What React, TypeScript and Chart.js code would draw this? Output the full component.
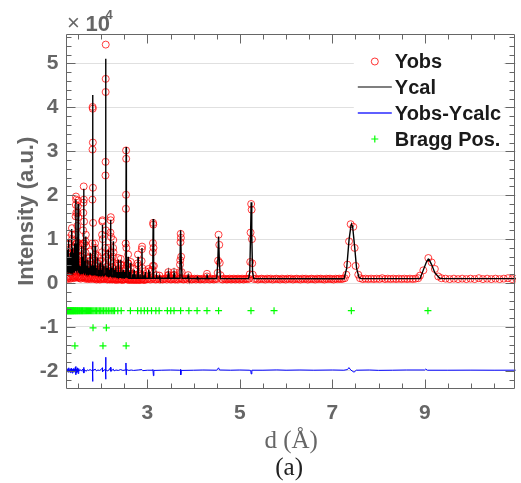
import React, { useEffect, useRef } from 'react';
import { Chart, registerables } from 'chart.js';

Chart.register(...registerables);

// ---- axis ranges / ticks ----
const X_MIN = 1.25;
const X_MAX = 10.97;
const Y_MIN = -23900;
const Y_MAX = 56600;
const xTickLabels = [3, 5, 7, 9];
const yTickValues = [-20000, -10000, 0, 10000, 20000, 30000, 40000, 50000];

// ---- Ycal: flat list of (d, intensity) vertices ----
const ycal = [
  1.25, 1800,
  1.258, 2400, 1.262, 4500, 1.266, 2600,
  1.269, 2900, 1.272, 7600, 1.276, 2500,
  1.28, 3000, 1.283, 5000, 1.287, 2700,
  1.293, 3100, 1.297, 9900, 1.301, 2800,
  1.306, 3200, 1.31, 6000, 1.313, 2900,
  1.315, 3000, 1.318, 4000, 1.322, 2600,
  1.327, 2800, 1.33, 5300, 1.334, 2500,
  1.339, 3000, 1.342, 7000, 1.346, 2700,
  1.352, 2900, 1.355, 4500, 1.359, 2600,
  1.364, 3100, 1.368, 12300, 1.372, 2900,
  1.377, 3200, 1.38, 8000, 1.384, 2800,
  1.389, 2600, 1.392, 5000, 1.396, 2500,
  1.4, 2800, 1.404, 6900, 1.408, 2600,
  1.414, 2500, 1.418, 4000, 1.422, 2600,
  1.426, 3000, 1.43, 9000, 1.434, 2900,
  1.45, 3300, 1.455, 19100, 1.46, 3100,
  1.464, 2900, 1.468, 7000, 1.472, 2800,
  1.475, 3000, 1.478, 9000, 1.482, 2800,
  1.495, 3100, 1.5, 18000, 1.505, 2800,
  1.511, 2600, 1.515, 6000, 1.519, 2500,
  1.526, 2400, 1.53, 4000, 1.534, 2300,
  1.542, 2300, 1.546, 3800, 1.55, 2200,
  1.566, 2500, 1.57, 8400, 1.574, 2400,
  1.581, 2300, 1.585, 4500, 1.589, 2200,
  1.596, 2500, 1.6, 6000, 1.604, 2400,
  1.617, 2700, 1.622, 21500, 1.627, 2600,
  1.636, 2300, 1.64, 5000, 1.644, 2200,
  1.664, 2500, 1.668, 10600, 1.672, 2400,
  1.681, 2200, 1.685, 4000, 1.689, 2100,
  1.706, 2200, 1.71, 5300, 1.714, 2100,
  1.726, 2000, 1.73, 3500, 1.734, 2000,
  1.756, 2200, 1.76, 6900, 1.764, 2100,
  1.781, 2000, 1.785, 4000, 1.789, 1900,
  1.796, 1900, 1.8, 3000, 1.804, 1900,
  1.813, 2200, 1.818, 42800, 1.823, 2200,
  1.836, 1900, 1.84, 4000, 1.844, 1900,
  1.863, 2000, 1.867, 8500, 1.871, 1900,
  1.886, 1800, 1.89, 3500, 1.894, 1800,
  1.921, 1900, 1.925, 5800, 1.929, 1800,
  1.946, 1800, 1.95, 3000, 1.954, 1700,
  1.971, 1800, 1.975, 4700, 1.979, 1700,
  1.996, 1700, 2.0, 3000, 2.004, 1700,
  2.021, 2000, 2.026, 13300, 2.031, 1900,
  2.056, 1700, 2.06, 4000, 2.064, 1700,
  2.092, 2100, 2.097, 51100, 2.102, 2000,
  2.121, 1700, 2.125, 3500, 2.129, 1600,
  2.15, 1700, 2.154, 7600, 2.158, 1600,
  2.176, 1600, 2.18, 3000, 2.184, 1600,
  2.199, 1800, 2.204, 14400, 2.209, 1700,
  2.226, 1600, 2.23, 3500, 2.234, 1500,
  2.257, 1600, 2.262, 9500, 2.267, 1500,
  2.286, 1400, 2.29, 3000, 2.294, 1400,
  2.314, 1400, 2.318, 3800, 2.322, 1400,
  2.341, 1300, 2.345, 2500, 2.349, 1300,
  2.365, 1400, 2.369, 5300, 2.373, 1300,
  2.396, 1300, 2.4, 2500, 2.404, 1300,
  2.421, 1300, 2.425, 5300, 2.429, 1300,
  2.446, 1200, 2.45, 2500, 2.454, 1200,
  2.472, 1200, 2.476, 3000, 2.48, 1200,
  2.501, 1200, 2.505, 2500, 2.509, 1200,
  2.534, 1400, 2.54, 31000, 2.546, 1400,
  2.578, 1200, 2.583, 6000, 2.588, 1200,
  2.606, 1100, 2.61, 2500, 2.614, 1100,
  2.634, 1100, 2.639, 4600, 2.644, 1100,
  2.675, 1100, 2.68, 2000, 2.685, 1100,
  2.707, 1100, 2.712, 3000, 2.717, 1100,
  2.745, 1100, 2.75, 2000, 2.755, 1100,
  2.791, 1100, 2.797, 6000, 2.803, 1100,
  2.835, 1100, 2.84, 2000, 2.845, 1100,
  2.877, 1100, 2.883, 8000, 2.889, 1100,
  2.915, 1100, 2.92, 1800, 2.925, 1100,
  2.948, 1100, 2.954, 2500, 2.96, 1100,
  3.018, 1100, 3.025, 3000, 3.032, 1100,
  3.044, 1100, 3.05, 2500, 3.056, 1100,
  3.112, 1100, 3.118, 6000, 3.125, 14600, 3.132, 6000, 3.138, 1100,
  3.19, 1100, 3.2, 1600, 3.21, 1100,
  3.25, 1100, 3.26, 1500, 3.27, 1100,
  3.44, 1100, 3.453, 2300, 3.466, 1100,
  3.563, 1100, 3.576, 2300, 3.589, 1100,
  3.69, 1100, 3.705, 5000, 3.719, 12000, 3.733, 5000, 3.75, 1100,
  3.87, 1100, 3.882, 1700, 3.894, 1100,
  4.07, 1050, 4.08, 1300, 4.09, 1050,
  4.275, 1050, 4.289, 2000, 4.303, 1050,
  4.5, 1050, 4.522, 4500, 4.54, 10600, 4.558, 4500, 4.58, 1050,
  5.19, 1000, 5.215, 2500, 5.232, 11000, 5.245, 18400, 5.258, 11000, 5.275, 2500, 5.3, 1000,
  7.256, 980, 7.312, 3400, 7.363, 9900, 7.405, 13100, 7.42, 13300, 7.44, 12900, 7.483, 8300, 7.525, 3400, 7.577, 1300, 7.62, 1000,
  8.898, 1000, 8.97, 3000, 9.041, 4900, 9.078, 5470, 9.09, 5450, 9.148, 4200, 9.22, 2300, 9.326, 1100, 9.4, 1000,
  10.97, 1000,
];

// ---- Yobs: flat lists of (d, intensity) points ----
const yobsBackground = [
  1.252, 1200, 1.27, 900, 1.288, 1400, 1.306, 1100, 1.324, 1500, 1.342, 1000, 1.36, 1300, 1.378, 1600,
  1.396, 1100, 1.414, 1400, 1.432, 1200, 1.45, 1700, 1.468, 1300, 1.486, 1500, 1.504, 1400, 1.522, 1100,
  1.54, 1300, 1.558, 1000, 1.576, 1400, 1.594, 1200, 1.612, 1500, 1.63, 1300, 1.648, 1000, 1.666, 1400,
  1.684, 1100, 1.702, 900, 1.72, 1200, 1.738, 1000, 1.756, 1300, 1.774, 900, 1.792, 1100, 1.81, 1400,
  1.828, 1200, 1.846, 900, 1.864, 1100, 1.882, 1000, 1.9, 800, 1.918, 1100, 1.936, 900, 1.954, 1200,
  1.972, 800, 1.99, 1000, 2.008, 900, 2.026, 1300, 2.044, 1000, 2.062, 900, 2.08, 1100, 2.098, 1500,
  2.116, 900, 2.134, 800, 2.152, 1000, 2.17, 900, 2.188, 800, 2.206, 1100, 2.224, 900, 2.242, 800,
  2.26, 1000, 2.278, 900, 2.296, 800, 2.314, 1000, 2.332, 700, 2.35, 900, 2.368, 1000, 2.386, 800,
  2.404, 900, 2.422, 1000, 2.44, 800, 2.458, 700, 2.476, 900, 2.494, 800, 2.512, 900, 2.53, 1100,
  2.548, 1000, 2.566, 800, 2.584, 900, 2.602, 700, 2.62, 800, 2.638, 1000, 2.656, 800, 2.674, 700,
  2.692, 900, 2.71, 800, 2.728, 700, 2.746, 900, 2.764, 800, 2.782, 700, 2.8, 900, 2.818, 800,
  2.836, 700, 2.854, 800, 2.872, 900, 2.89, 1000, 2.908, 800, 2.926, 700, 2.944, 800,
  2.97, 800, 3.0, 900, 3.03, 1000, 3.06, 800, 3.09, 900, 3.12, 1200, 3.15, 900, 3.18, 800,
  3.21, 900, 3.24, 1000, 3.27, 800, 3.3, 900, 3.33, 800, 3.36, 900, 3.39, 1000, 3.42, 800,
  3.45, 1100, 3.48, 900, 3.51, 800, 3.54, 900, 3.57, 1000, 3.6, 800, 3.63, 900, 3.66, 800,
  3.69, 1000, 3.72, 1100, 3.75, 900, 3.78, 800, 3.81, 900, 3.84, 1000, 3.87, 800, 3.9, 1100,
  3.93, 900, 3.96, 800, 3.99, 900, 4.02, 1000, 4.05, 800, 4.08, 1000, 4.11, 900, 4.14, 800,
  4.17, 900, 4.2, 1000, 4.23, 800, 4.26, 900, 4.29, 1500, 4.32, 900, 4.35, 800, 4.38, 1000,
  4.41, 900, 4.44, 800, 4.47, 1000, 4.5, 900, 4.6, 900, 4.63, 800, 4.66, 1000, 4.69, 900,
  4.72, 800, 4.75, 900, 4.78, 1000, 4.81, 800, 4.84, 900, 4.87, 1000, 4.9, 800, 4.93, 900,
  4.96, 1000, 4.99, 800, 5.02, 900, 5.05, 1000, 5.08, 800, 5.11, 900, 5.14, 1000, 5.17, 900, 5.2, 1000,
  5.31, 900, 5.35, 1000, 5.39, 800, 5.43, 900, 5.47, 1000, 5.51, 900, 5.55, 800, 5.59, 1000,
  5.63, 900, 5.67, 1000, 5.71, 800, 5.75, 900, 5.79, 1000, 5.83, 900, 5.87, 800, 5.91, 1000,
  5.95, 900, 5.99, 800, 6.03, 1000, 6.07, 900, 6.11, 1000, 6.15, 800, 6.19, 900, 6.23, 1000,
  6.27, 900, 6.31, 800, 6.35, 1000, 6.39, 900, 6.43, 1000, 6.47, 800, 6.51, 900, 6.55, 1000,
  6.59, 900, 6.63, 800, 6.67, 1000, 6.71, 900, 6.75, 1000, 6.79, 900, 6.83, 800, 6.87, 1000,
  6.91, 900, 6.95, 1000, 6.99, 900, 7.03, 800, 7.07, 1000, 7.11, 900, 7.15, 1000, 7.19, 900,
  7.23, 1000, 7.27, 1100,
  7.6, 1100, 7.66, 900, 7.72, 1000, 7.78, 900, 7.84, 1000, 7.9, 900, 7.96, 1000, 8.02, 900,
  8.08, 1100, 8.14, 900, 8.2, 1000, 8.26, 900, 8.32, 1000, 8.38, 900, 8.44, 1000, 8.5, 900,
  8.56, 1000, 8.62, 900, 8.68, 1000, 8.74, 900, 8.8, 1000, 8.86, 1100,
  9.36, 1100, 9.45, 1000, 9.54, 900, 9.63, 1000, 9.72, 900, 9.81, 1000, 9.9, 900, 9.99, 1000,
  10.08, 900, 10.17, 1100, 10.26, 900, 10.35, 1000, 10.44, 900, 10.53, 1000, 10.62, 900,
  10.71, 1000, 10.8, 1100, 10.89, 900, 10.98, 1000,
];

const yobsShoulders = [
  1.256, 3000, 1.265, 2500, 1.275, 3500, 1.282, 2800, 1.29, 4200, 1.302, 3500, 1.315, 3000, 1.326, 2600,
  1.338, 3800, 1.35, 3200, 1.358, 2900, 1.375, 4500, 1.384, 3300, 1.397, 2700, 1.408, 3600, 1.421, 2800,
  1.44, 5000, 1.473, 4500, 1.488, 6000, 1.508, 5000, 1.525, 2600, 1.538, 2400, 1.55, 2800, 1.58, 3000,
  1.59, 2600, 1.604, 3500, 1.645, 3000, 1.652, 2500, 1.676, 3000, 1.695, 2400, 1.72, 2300, 1.745, 2800,
  1.775, 2600, 1.795, 2400, 1.835, 3000, 1.85, 2500, 1.878, 3000, 1.9, 2400, 1.94, 2600, 1.96, 2300,
  1.985, 2600, 2.01, 3000, 2.05, 2600, 2.07, 2400, 2.112, 3000, 2.14, 2500, 2.17, 2800, 2.19, 2400,
  2.24, 2600, 2.28, 2300, 2.3, 2100, 2.33, 2000, 2.355, 2200, 2.39, 2100, 2.44, 2000, 2.46, 2200,
  2.49, 1900, 2.52, 2200, 2.56, 2000, 2.6, 1900, 2.65, 2100, 2.69, 1800, 2.73, 1900, 2.77, 1800,
  2.82, 1700, 2.86, 1800, 2.93, 1700,
];

const yobsPeaks = [
  1.262, 4000, 1.268, 6000, 1.272, 7200, 1.278, 5000, 1.285, 5200, 1.293, 8000, 1.297, 10200, 1.3, 9000,
  1.306, 6500, 1.312, 5800, 1.322, 3800, 1.33, 5600, 1.336, 4200, 1.342, 7300, 1.348, 5500, 1.355, 4800,
  1.36, 8000, 1.364, 11000, 1.368, 12500, 1.372, 10000, 1.38, 8200, 1.386, 5500, 1.392, 5200, 1.4, 5500,
  1.404, 7200, 1.41, 4500, 1.418, 4300, 1.425, 6500, 1.43, 9300, 1.436, 7000, 1.442, 11000, 1.447, 15200,
  1.452, 17800, 1.455, 19700, 1.458, 19000, 1.462, 16000, 1.466, 9000, 1.47, 7200, 1.478, 9300, 1.484, 13000,
  1.49, 16000, 1.495, 17500, 1.5, 18800, 1.504, 15000, 1.51, 9000, 1.515, 6200, 1.52, 4000, 1.53, 4200,
  1.546, 4000, 1.562, 5000, 1.566, 7500, 1.57, 8600, 1.575, 6000, 1.585, 4800, 1.595, 4500, 1.6, 6300,
  1.606, 9000, 1.61, 12000, 1.614, 16000, 1.618, 18300, 1.622, 22000, 1.626, 19000, 1.63, 14000, 1.636, 9000,
  1.64, 5300, 1.66, 7000, 1.664, 9500, 1.668, 11000, 1.673, 8500, 1.685, 4300, 1.705, 4000, 1.71, 5600,
  1.73, 3700, 1.755, 5000, 1.76, 7200, 1.765, 5000, 1.785, 4200, 1.8, 3300,
  1.808, 9000, 1.811, 19000, 1.813, 30400, 1.815, 40100, 1.818, 39700, 1.82, 32000, 1.822, 21700, 1.825, 13700,
  1.83, 5500, 1.84, 4200, 1.86, 6000, 1.864, 8000, 1.867, 9000, 1.872, 6500, 1.89, 3800, 1.92, 4500,
  1.925, 6200, 1.93, 4500, 1.95, 3300, 1.975, 5000, 2.0, 3300,
  2.016, 7000, 2.02, 11000, 2.024, 14000, 2.028, 14300, 2.033, 10000, 2.04, 5000, 2.06, 4300,
  2.09, 8000, 2.093, 24500, 2.095, 27600, 2.097, 43500, 2.098, 46500, 2.099, 54300, 2.102, 12000, 2.108, 6000,
  2.125, 3700, 2.15, 6500, 2.154, 8000, 2.16, 5500, 2.18, 3200, 2.196, 7000, 2.2, 11500, 2.204, 14300,
  2.208, 15000, 2.213, 10500, 2.22, 5000, 2.23, 3700, 2.254, 6000, 2.258, 8000, 2.262, 9800, 2.267, 7000,
  2.29, 3200, 2.318, 4000, 2.345, 2700, 2.365, 4500, 2.369, 5700, 2.375, 4000, 2.4, 2700, 2.42, 4200,
  2.425, 5500, 2.43, 4000, 2.476, 3200, 2.505, 2700,
  2.53, 9000, 2.535, 16900, 2.537, 20100, 2.539, 30200, 2.541, 28300, 2.545, 8000, 2.55, 4000,
  2.578, 4500, 2.583, 6500, 2.588, 4500, 2.61, 2700, 2.636, 3500, 2.639, 4800, 2.712, 3200,
  2.79, 4500, 2.797, 6500, 2.803, 4000, 2.84, 2200, 2.875, 5000, 2.88, 7700, 2.885, 8300, 2.89, 3400, 2.954, 2700,
  3.025, 3200, 3.05, 2700, 3.11, 3000, 3.115, 3900, 3.118, 7000, 3.12, 9100, 3.124, 13700, 3.128, 13300,
  3.132, 8000, 3.14, 3900, 3.2, 1800, 3.26, 1700,
  3.445, 1800, 3.453, 2500, 3.46, 1800, 3.57, 1800, 3.576, 2500, 3.583, 1800,
  3.7, 2500, 3.706, 4200, 3.711, 5200, 3.716, 9300, 3.72, 11200, 3.725, 10300, 3.73, 6000, 3.74, 2500,
  3.882, 1800, 4.289, 2100,
  4.52, 2300, 4.53, 5100, 4.54, 11000, 4.555, 8700, 4.565, 4600, 4.58, 1800,
  5.215, 2000, 5.225, 4800, 5.232, 11500, 5.245, 18000, 5.255, 16700, 5.262, 10000, 5.268, 4500, 5.28, 1900,
  7.305, 1900, 7.327, 4200, 7.363, 9500, 7.397, 13400, 7.455, 12800, 7.483, 8000, 7.504, 3900, 7.562, 1900,
  8.898, 1700, 8.97, 2900, 9.078, 5700, 9.149, 4700, 9.219, 3200, 9.292, 1500,
];

// ---- Yobs - Ycalc (plotted with its offset) ----
const ydiff = [
  1.25, -19850, 1.26, -19600, 1.27, -20200, 1.28, -19500, 1.29, -20300, 1.3, -19300, 1.31, -20100,
  1.32, -19700, 1.33, -20400, 1.34, -19500, 1.35, -20000, 1.36, -19400, 1.37, -20500, 1.38, -19600,
  1.39, -20100, 1.4, -19500, 1.41, -20300, 1.42, -19700, 1.43, -20000, 1.44, -19200, 1.45, -20900,
  1.455, -19000, 1.46, -20500, 1.47, -19600, 1.48, -20200, 1.49, -19300, 1.5, -20600, 1.51, -19500,
  1.52, -20100, 1.54, -19700, 1.57, -20000, 1.6, -19600, 1.615, -20300, 1.622, -19200, 1.628, -20500,
  1.64, -19700, 1.67, -20100, 1.7, -19800, 1.73, -19900, 1.76, -19700, 1.79, -19900, 1.81, -19700,
  1.813, -17900, 1.818, -22400, 1.823, -19500, 1.83, -19900, 1.87, -19600, 1.9, -20000, 1.93, -19800,
  1.96, -19900, 2.0, -19700, 2.026, -19300, 2.03, -20200, 2.06, -19800, 2.093, -19700, 2.097, -16900,
  2.1, -21900, 2.104, -19700, 2.13, -20000, 2.17, -19800, 2.204, -19200, 2.21, -20100, 2.24, -19800,
  2.262, -19600, 2.28, -20000, 2.32, -19800, 2.37, -19900, 2.42, -19700, 2.47, -19900, 2.52, -19800,
  2.536, -18200, 2.541, -20900, 2.546, -19700, 2.6, -19900, 2.65, -19800, 2.7, -19900, 2.8, -19800,
  2.88, -19700, 2.9, -19950, 3.0, -19850, 3.1, -19850, 3.12, -19700, 3.13, -21100, 3.14, -19900,
  3.3, -19850, 3.5, -19800, 3.7, -19850, 3.715, -19700, 3.722, -20900, 3.73, -19900, 4.0, -19850,
  4.2, -19800, 4.5, -19850, 4.54, -19300, 4.56, -19800, 4.8, -19850, 5.0, -19800, 5.2, -19850,
  5.235, -19900, 5.245, -20700, 5.26, -19850, 5.5, -19850, 5.8, -19780, 6.0, -19850, 6.3, -19800,
  6.6, -19850, 7.0, -19800, 7.25, -19850, 7.33, -19700, 7.36, -19250, 7.4, -19800, 7.47, -20300,
  7.52, -19850, 7.8, -19800, 8.0, -19880, 8.3, -19850, 8.6, -19800, 9.0, -19800, 9.02, -19600,
  9.06, -19850, 9.5, -19850, 10.0, -19830, 10.5, -19850, 10.97, -19840,
];

// ---- Bragg positions (d) of the three phases, and the row each is drawn on ----
const braggPhase1 = [
  1.254, 1.262, 1.27, 1.281, 1.29, 1.297, 1.305, 1.318, 1.326, 1.334, 1.345, 1.352, 1.363, 1.37, 1.382,
  1.394, 1.4, 1.412, 1.425, 1.437, 1.448, 1.46, 1.473, 1.487, 1.5, 1.514, 1.53, 1.545, 1.56, 1.577,
  1.594, 1.61, 1.628, 1.646, 1.665, 1.684, 1.705, 1.726, 1.748, 1.77, 1.795, 1.82, 1.845, 1.873, 1.9,
  1.93, 1.96, 1.99, 2.02, 2.05, 2.085, 2.12, 2.155, 2.19, 2.23, 2.26, 2.29,
  2.36, 2.433, 2.632, 2.789, 2.862, 2.933, 3.003, 3.089, 3.183, 3.254, 3.432, 3.505, 3.576, 3.719,
  3.897, 4.075, 4.289, 4.54, 5.241, 5.74, 7.412, 9.069,
];
const braggPhase2 = [1.824, 2.112];
const braggPhase3 = [1.432, 2.039, 2.54];
const braggRows = [-6300, -10200, -14300];

const legendLabels = ['Yobs', 'Ycal', 'Yobs-Ycalc', 'Bragg Pos.'];

const SANS = '"Liberation Sans", Arial, Helvetica, sans-serif';
const SERIF = '"Liberation Serif", "Times New Roman", serif';
const AXIS_GRAY = '#666666';

function toPoints(flat: number[]) {
  const out: { x: number; y: number }[] = [];
  for (let i = 0; i + 1 < flat.length; i += 2) out.push({ x: flat[i], y: flat[i + 1] });
  return out;
}

const decorPlugin = {
  id: 'decor',
  afterDatasetsDraw(chart: any) {
    const { ctx, chartArea, scales } = chart;
    const { left, right, top, bottom } = chartArea;
    const xs = scales.x;
    const ys = scales.y;
    ctx.save();

    // legend (white background, no box)
    const lgX = right - 162;
    const lgTop = top + 12;
    ctx.fillStyle = '#ffffff';
    ctx.fillRect(lgX, lgTop, 150, 104);
    const symX = right - 141;
    const textX = right - 121;
    const rowY = [top + 27, top + 52.5, top + 78.5, top + 104.5];
    ctx.font = `bold 20px ${SANS}`;
    ctx.fillStyle = '#1a1a1a';
    ctx.textAlign = 'left';
    ctx.textBaseline = 'middle';
    legendLabels.forEach((t, i) => ctx.fillText(t, textX, rowY[i] + 1));
    // Yobs symbol
    ctx.strokeStyle = 'red';
    ctx.lineWidth = 0.8;
    ctx.beginPath();
    ctx.arc(symX, rowY[0], 3.5, 0, Math.PI * 2);
    ctx.stroke();
    // Ycal symbol
    ctx.strokeStyle = '#000';
    ctx.lineWidth = 1.2;
    ctx.beginPath();
    ctx.moveTo(symX - 17, rowY[1]);
    ctx.lineTo(symX + 17, rowY[1]);
    ctx.stroke();
    // diff symbol
    ctx.strokeStyle = '#2a2aff';
    ctx.lineWidth = 1.4;
    ctx.beginPath();
    ctx.moveTo(symX - 17, rowY[2]);
    ctx.lineTo(symX + 17, rowY[2]);
    ctx.stroke();
    // Bragg symbol
    ctx.strokeStyle = '#00ff00';
    ctx.lineWidth = 1.2;
    ctx.beginPath();
    ctx.moveTo(symX - 3.5, rowY[3]);
    ctx.lineTo(symX + 3.5, rowY[3]);
    ctx.moveTo(symX, rowY[3] - 3.5);
    ctx.lineTo(symX, rowY[3] + 3.5);
    ctx.stroke();

    // axes box
    const xL = Math.floor(left) + 0.5;
    const xR = Math.floor(right) - 0.5;
    const yT = Math.floor(top) + 0.5;
    const yB = Math.floor(bottom) + 0.5;
    ctx.strokeStyle = AXIS_GRAY;
    ctx.lineWidth = 1;
    ctx.beginPath();
    ctx.rect(xL, yT, xR - xL, yB - yT);
    ctx.stroke();

    // y ticks (major every 1e4, minor every 2e3), inward, both sides
    ctx.beginPath();
    for (let v = -22000; v <= 56000; v += 2000) {
      const py = Math.round(ys.getPixelForValue(v)) + 0.5;
      if (py <= yT || py >= yB) continue;
      const len = v % 10000 === 0 ? 9 : 5;
      ctx.moveTo(xL, py);
      ctx.lineTo(xL + len, py);
      ctx.moveTo(xR, py);
      ctx.lineTo(xR - len, py);
    }
    // x ticks (major at labels, minor every 0.5), inward, top and bottom
    for (let k = 3; k <= 21; k++) {
      const v = k / 2;
      const px = Math.round(xs.getPixelForValue(v)) + 0.5;
      if (px <= xL || px >= xR) continue;
      const len = xTickLabels.includes(v) ? 9 : 5;
      ctx.moveTo(px, yB);
      ctx.lineTo(px, yB - len);
      ctx.moveTo(px, yT);
      ctx.lineTo(px, yT + len);
    }
    ctx.stroke();

    // exponent label
    ctx.fillStyle = AXIS_GRAY;
    ctx.textAlign = 'left';
    ctx.textBaseline = 'alphabetic';
    ctx.font = `22px ${SANS}`;
    ctx.fillText('\u00d7', left + 0.5, top - 5);
    ctx.font = `bold 22px ${SANS}`;
    ctx.fillText('10', left + 19, top - 4);
    ctx.font = `bold 13px ${SANS}`;
    ctx.fillText('4', left + 39, top - 16);

    // panel caption
    ctx.fillStyle = '#222';
    ctx.font = `25px ${SERIF}`;
    ctx.textAlign = 'center';
    ctx.textBaseline = 'middle';
    ctx.fillText('(a)', (left + right) / 2 - 2, bottom + 80);
    ctx.restore();
  },
};

export default function App() {
  const canvasRef = useRef<HTMLCanvasElement | null>(null);

  useEffect(() => {
    if (!canvasRef.current) return;
    const braggSets = [braggPhase1, braggPhase2, braggPhase3].map((arr, i) => ({
      label: 'Bragg Pos.',
      data: arr.map((d) => ({ x: d, y: braggRows[i] })),
      showLine: false,
      pointStyle: 'cross',
      pointRadius: 3.5,
      pointBorderWidth: 1.2,
      borderColor: '#00ff00',
      backgroundColor: '#00ff00',
      order: 3,
    }));
    const chart = new Chart(canvasRef.current, {
      type: 'scatter',
      data: {
        datasets: [
          {
            label: 'Ycal',
            data: toPoints(ycal),
            showLine: true,
            borderColor: '#000000',
            borderWidth: 1.4,
            pointRadius: 0,
            tension: 0,
            order: 0,
          },
          {
            label: 'Yobs',
            data: toPoints(yobsBackground).concat(toPoints(yobsShoulders), toPoints(yobsPeaks)),
            showLine: false,
            pointStyle: 'circle',
            pointRadius: 3.5,
            borderWidth: 0.8,
            borderColor: 'rgba(255,0,0,0.95)',
            backgroundColor: 'rgba(0,0,0,0)',
            order: 1,
          },
          {
            label: 'Yobs-Ycalc',
            data: toPoints(ydiff),
            showLine: true,
            borderColor: '#0000ff',
            borderWidth: 1,
            pointRadius: 0,
            tension: 0,
            order: 2,
          },
          ...braggSets,
        ] as any,
      },
      options: {
        animation: false,
        responsive: false,
        maintainAspectRatio: false,
        events: [],
        layout: { padding: { top: 34.5, right: 1, left: 0, bottom: 0 } },
        plugins: {
          legend: { display: false },
          tooltip: { enabled: false },
          title: { display: false },
        },
        scales: {
          x: {
            type: 'linear',
            min: X_MIN,
            max: X_MAX,
            grid: { display: false, drawTicks: false },
            border: { display: false },
            afterBuildTicks: (s: any) => {
              s.ticks = xTickLabels.map((v) => ({ value: v }));
            },
            afterFit: (s: any) => {
              s.height = 95;
            },
            ticks: {
              autoSkip: false,
              maxRotation: 0,
              padding: 13,
              color: AXIS_GRAY,
              font: { family: SANS, size: 21, weight: 'bold' },
              callback: (v: any) => String(v),
            },
            title: {
              display: true,
              text: 'd (Å)',
              color: AXIS_GRAY,
              font: { family: SERIF, size: 25 },
              padding: { top: 0, bottom: 27 },
            },
          },
          y: {
            type: 'linear',
            min: Y_MIN,
            max: Y_MAX,
            grid: { display: true, drawTicks: false, color: '#e0e0e0', lineWidth: 1 },
            border: { display: false },
            afterBuildTicks: (s: any) => {
              s.ticks = yTickValues.map((v) => ({ value: v }));
            },
            afterFit: (s: any) => {
              s.width = 66.5;
            },
            ticks: {
              autoSkip: false,
              padding: 8,
              color: AXIS_GRAY,
              font: { family: SANS, size: 21, weight: 'bold' },
              callback: (v: any) => String(Number(v) / 10000),
            },
            title: {
              display: true,
              text: 'Intensity (a.u.)',
              color: AXIS_GRAY,
              font: { family: SANS, size: 22, weight: 'bold' },
              padding: { top: 14, bottom: 0 },
            },
          },
        },
      } as any,
      plugins: [decorPlugin],
    });
    return () => chart.destroy();
  }, []);

  return (
    <div style={{ position: 'absolute', left: 0, top: 0, width: 521, height: 483, background: '#fff' }}>
      <canvas ref={canvasRef} width={521} height={483} style={{ width: 521, height: 483, display: 'block' }} />
    </div>
  );
}
